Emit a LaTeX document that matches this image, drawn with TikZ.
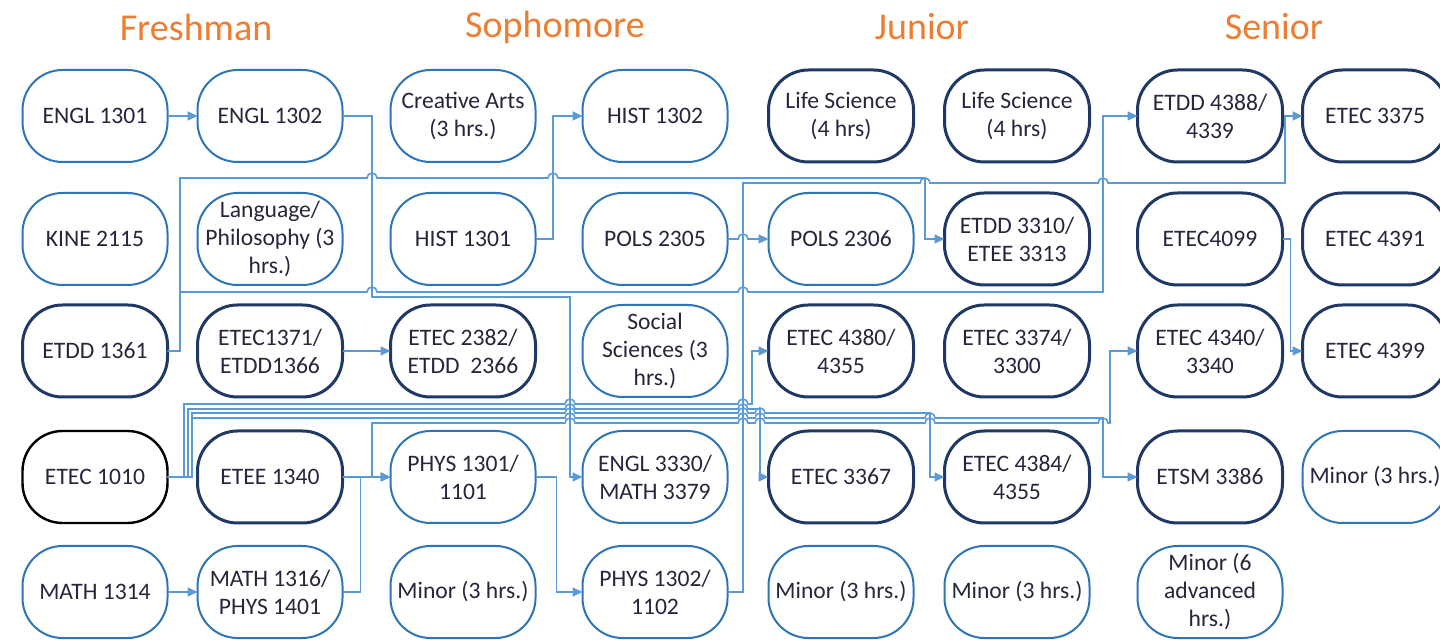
\documentclass[tikz,border=0pt]{standalone}
\usepackage{fontspec}
\setmainfont{Carlito}
\usepackage{tikz}
\usetikzlibrary{positioning, arrows.meta}
\definecolor{corebl}{RGB}{46,117,182}
\definecolor{majorbl}{RGB}{31,56,100}
\definecolor{linkbl}{RGB}{91,155,213}
\definecolor{yearor}{RGB}{237,125,49}
\definecolor{txt}{RGB}{38,38,60}

\begin{document}
\begin{tikzpicture}[x=0.5pt, y=-0.5pt,
    course/.style={rectangle, rounded corners=20pt, draw, minimum width=72.5pt, minimum height=46pt, outer sep=0pt, align=center, inner sep=1pt, font=\fontsize{11.8}{14}\selectfont, text=txt, fill=white},
    core/.style={course, draw=corebl, line width=1pt},
    major/.style={course, draw=majorbl, line width=1.5pt},
    intro/.style={course, draw=black, line width=1.2pt},
    link/.style={draw=linkbl, line width=0.8pt, -{Triangle[length=5pt,width=4.5pt]}},
    year/.style={font=\fontsize{19}{22}\selectfont, text=yearor}]
    \useasboundingbox (0,0) rectangle (1440,640);
    \fill[white] (0,0) rectangle (1440,640);
    % Years
    \node[year] (fresh) at (196,27) {Freshman};
    \node[year] (soph) at (555,27) {Sophomore};
    \node[year] (jun) at (922,27) {Junior};
    \node[year] (sen) at (1274,27) {Senior};
    % First column
    \node[core] (n11) at (95,116) {ENGL 1301};
    \node[core, below=15.5pt of n11] (n21) {KINE 2115};
    \node[major, below=10pt of n21] (n31) {ETDD 1361};
    \node[intro, below=17pt of n31] (n41) {ETEC 1010};
    \node[core, below=11.5pt of n41] (n51) {MATH 1314};
    % Row 1
    \node[core, right=15pt of n11] (n12) {ENGL 1302};
    \node[core, right=24pt of n12] (n13) {Creative Arts\\(3 hrs.)};
    \node[core, right=23.5pt of n13] (n14) {HIST 1302};
    \node[major, right=20.5pt of n14] (n15) {Life Science\\(4 hrs)};
    \node[major, right=15.5pt of n15] (n16) {Life Science\\(4 hrs)};
    \node[major, right=24pt of n16] (n17) {ETDD 4388/\\4339};
    \node[major, right=10pt of n17] (n18) {ETEC 3375};
    % Row 2
    \node[core, right=15pt of n21] (n22) {Language/\\Philosophy (3\\hrs.)};
    \node[core, right=24pt of n22] (n23) {HIST 1301};
    \node[core, right=23.5pt of n23] (n24) {POLS 2305};
    \node[core, right=20.5pt of n24] (n25) {POLS 2306};
    \node[major, right=15.5pt of n25] (n26) {ETDD 3310/\\ETEE 3313};
    \node[major, right=24pt of n26] (n27) {ETEC4099};
    \node[major, right=10pt of n27] (n28) {ETEC 4391};
    % Row 3
    \node[major, right=15pt of n31] (n32) {ETEC1371/\\ETDD1366};
    \node[major, right=24pt of n32] (n33) {ETEC 2382/\\ETDD~~2366};
    \node[core, right=23.5pt of n33] (n34) {Social\\Sciences (3\\hrs.)};
    \node[major, right=20.5pt of n34] (n35) {ETEC 4380/\\4355};
    \node[major, right=15.5pt of n35] (n36) {ETEC 3374/\\3300};
    \node[major, right=24pt of n36] (n37) {ETEC 4340/\\3340};
    \node[major, right=10pt of n37] (n38) {ETEC 4399};
    % Row 4
    \node[major, right=15pt of n41] (n42) {ETEE 1340};
    \node[core, right=24pt of n42] (n43) {PHYS 1301/\\1101};
    \node[core, right=23.5pt of n43] (n44) {ENGL 3330/\\MATH 3379};
    \node[major, right=20.5pt of n44] (n45) {ETEC 3367};
    \node[major, right=15.5pt of n45] (n46) {ETEC 4384/\\4355};
    \node[major, right=24pt of n46] (n47) {ETSM 3386};
    \node[core, right=10pt of n47] (n48) {Minor (3 hrs.)};
    % Row 5
    \node[core, right=15pt of n51] (n52) {MATH 1316/\\PHYS 1401};
    \node[core, right=24pt of n52] (n53) {Minor (3 hrs.)};
    \node[core, right=23.5pt of n53] (n54) {PHYS 1302/\\1102};
    \node[core, right=20.5pt of n54] (n55) {Minor (3 hrs.)};
    \node[core, right=15.5pt of n55] (n56) {Minor (3 hrs.)};
    \node[core, right=24pt of n56] (n57) {Minor (6\\advanced\\hrs.)};
    % Prerequisites (hops where lines cross)
    \draw[link] (n11) -- (n12);
    \draw[link] (n12.east) -| (372,297) -- (570,297) |- (n44.west);
    \draw[link] (n23.east) -| (553,180) |- (n14.west);
    \draw[link] (n31.east) -| (180,178) -- (367,178) arc[start angle=180,end angle=360,radius=5] -- (548,178) arc[start angle=180,end angle=360,radius=5] -- (925,178) |- (n26.west);
    \draw[link] (n31.east) -| (180,292) -- (367,292) arc[start angle=180,end angle=360,radius=5] -- (738,292) arc[start angle=180,end angle=360,radius=5] -- (1103,292) |- (n17.west);
    \draw[link] (n32) -- (n33);
    \draw[link] (n24.east) -- (738,239) arc[start angle=180,end angle=360,radius=5] -- (n25.west);
    \draw[link] (n27.east) -| ([xshift=-6pt]n38.west) -- (n38.west);
    \draw[link] (n51) -- (n52);
    \draw[link] (n52.east) -| ([xshift=-15pt]n43.west) -- (n43.west);
    \draw[link] (n42) -- (n43);
    \draw[link] (n43.east) -| ([xshift=-13pt]n54.west) -- (n54.west);
    \draw[link] (n54.east) -| (743,183) -- (920,183) arc[start angle=180,end angle=360,radius=5] -- (1098,183) arc[start angle=180,end angle=360,radius=5] -- (1285,183) |- (n18.west);
    \draw[link] (n41.east) -| (184,404) -- (565,404) arc[start angle=180,end angle=360,radius=5] -- (738,404) arc[start angle=180,end angle=360,radius=5] -- (752,404) |- (n35.west);
    \draw[link] (n41.east) -| (188,409) -- (565,409) arc[start angle=180,end angle=360,radius=5] -- (738,409) arc[start angle=180,end angle=360,radius=5] -- (760,409) |- (n45.west);
    \draw[link] (n41.east) -| (192,413) -- (565,413) arc[start angle=180,end angle=360,radius=5] -- (738,413) arc[start angle=180,end angle=360,radius=5] -- (755,413) arc[start angle=180,end angle=360,radius=5] -- (930,413) |- (n46.west);
    \draw[link] (n41.east) -| (192,418) -- (565,418) arc[start angle=180,end angle=360,radius=5] -- (738,418) arc[start angle=180,end angle=360,radius=5] -- (755,418) arc[start angle=180,end angle=360,radius=5] -- (925,418) arc[start angle=180,end angle=360,radius=5] -- (1103,418) |- (n47.west);
    \draw[link] (n42.east) -| (372,423) -- (565,423) arc[start angle=180,end angle=360,radius=5] -- (738,423) arc[start angle=180,end angle=360,radius=5] -- (755,423) arc[start angle=180,end angle=360,radius=5] -- (925,423) arc[start angle=180,end angle=360,radius=5] -- (1098,423) arc[start angle=180,end angle=360,radius=5] -- (1110,423) |- (n37.west);
\end{tikzpicture}
\end{document}
